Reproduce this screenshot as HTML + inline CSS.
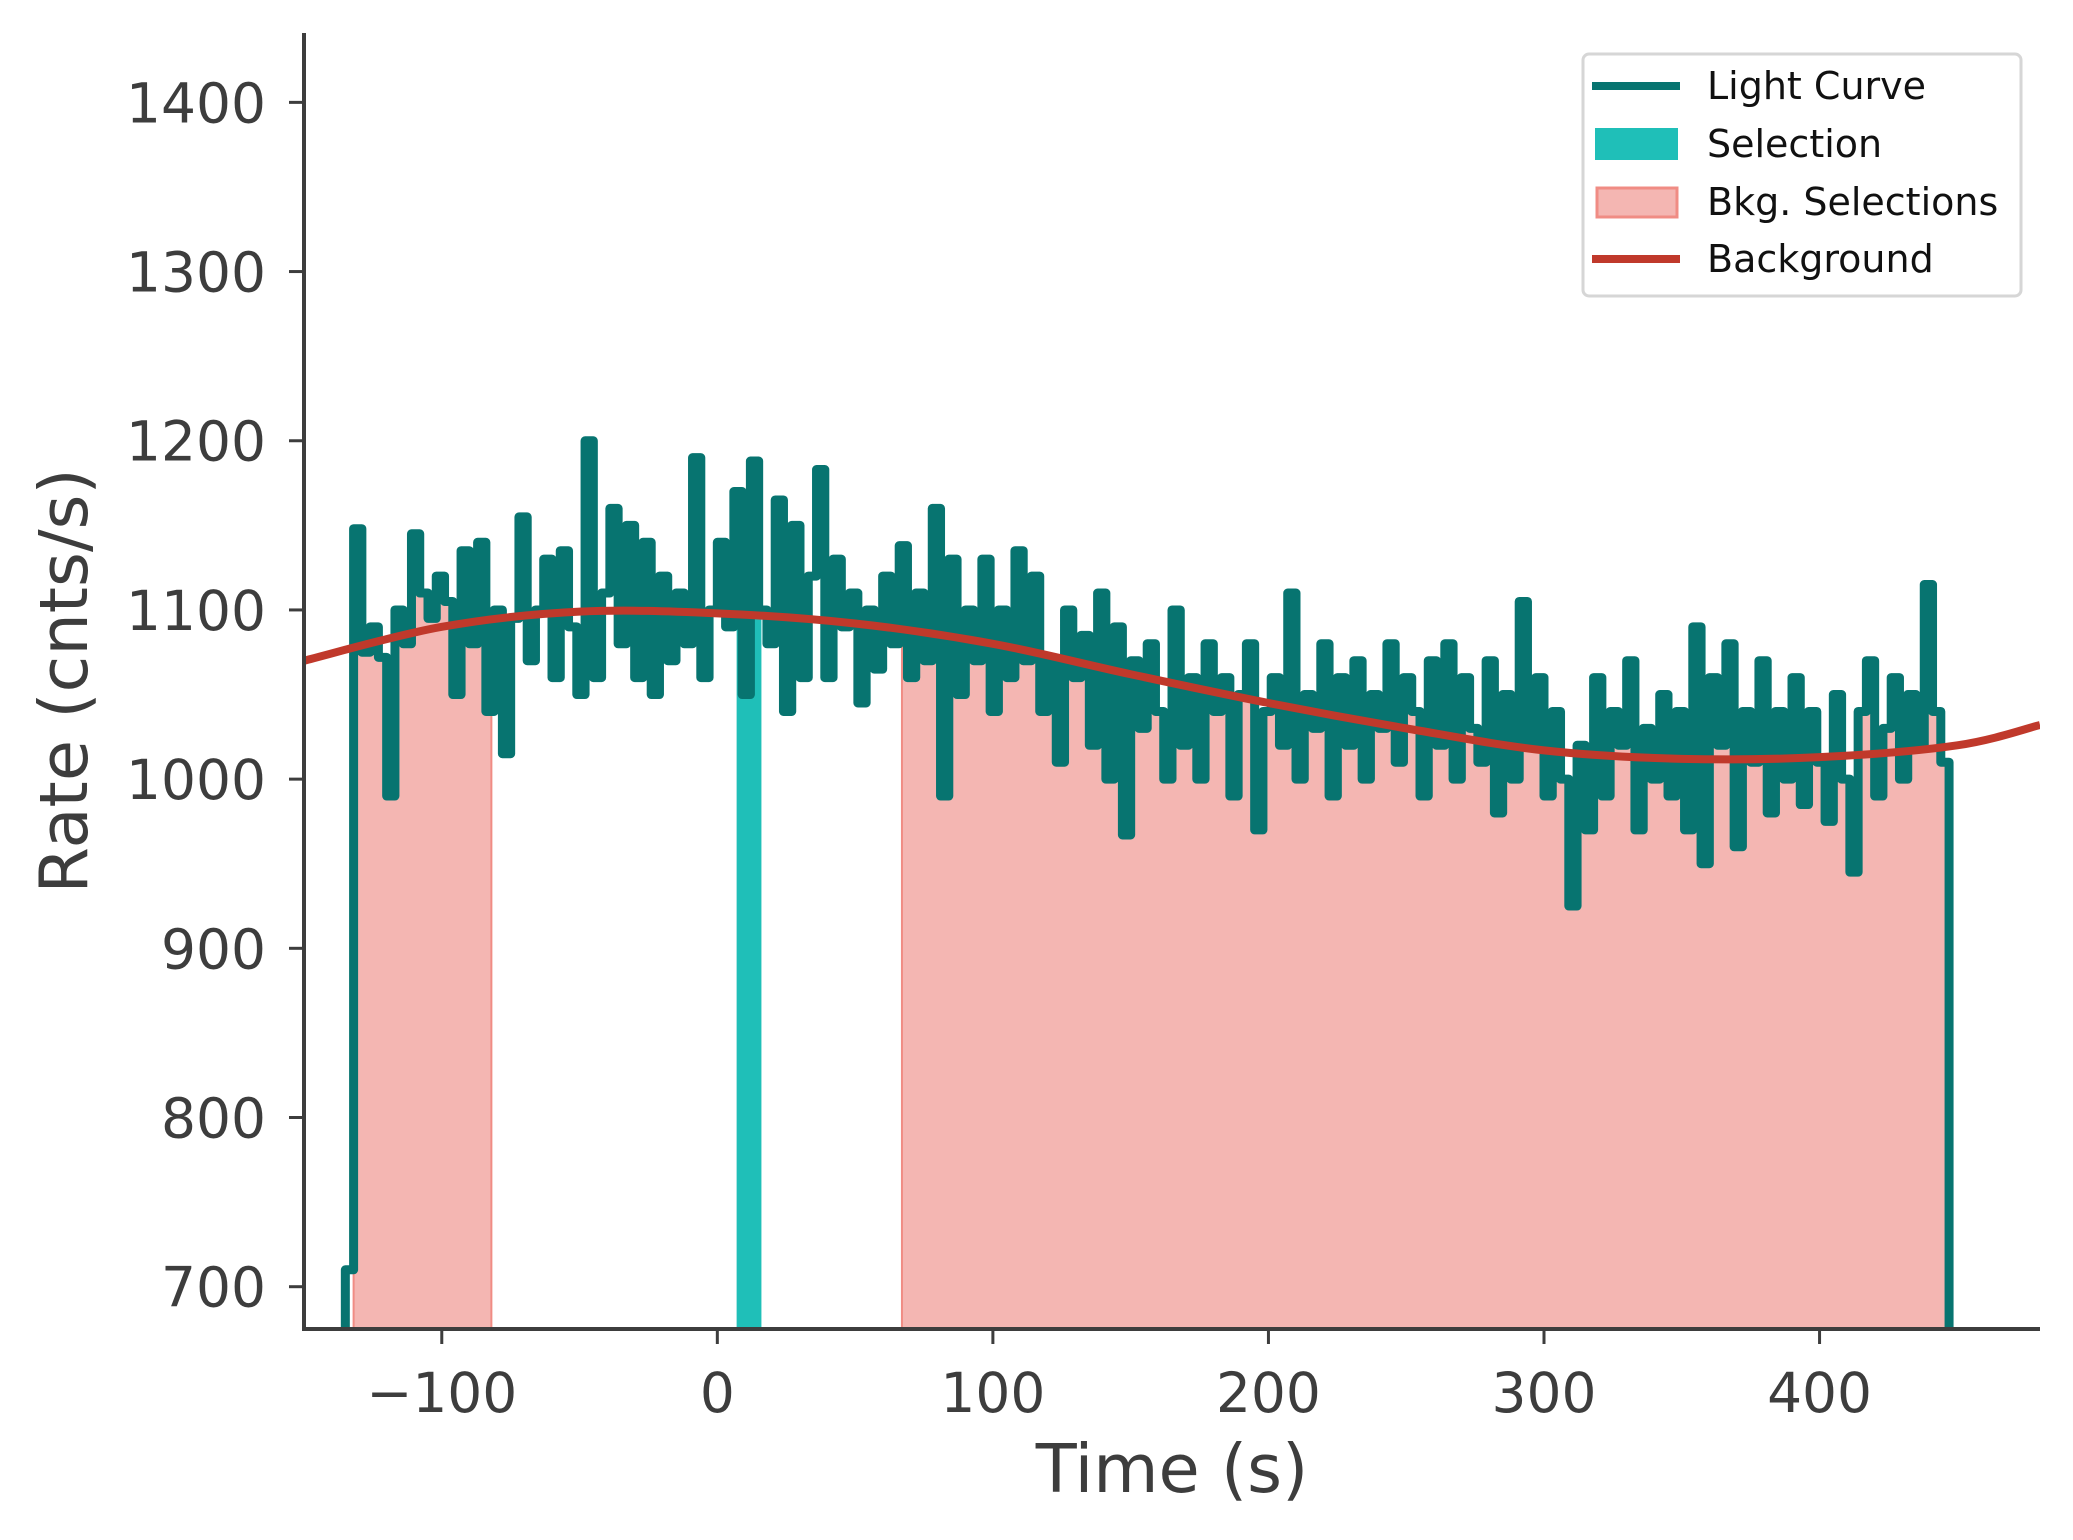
<!DOCTYPE html>
<html><head><meta charset="utf-8"><style>
html,body{margin:0;padding:0;background:#fff;}
svg{display:block;font-family:"DejaVu Sans","Liberation Sans",sans-serif;}
</style></head><body>
<svg id="chart" width="2073" height="1540" viewBox="0 0 2073 1540">
<defs><clipPath id="plotclip"><rect x="304" y="33" width="1736" height="1296"/></clipPath></defs>
<g id="plot" clip-path="url(#plotclip)"></g>
<g id="axes"></g>
<g id="legend">
  <rect x="1583" y="54" width="438" height="242" rx="6" fill="#fff" stroke="#d6d6d6" stroke-width="3"/>
  <line x1="1592" y1="86" x2="1680" y2="86" stroke="#077470" stroke-width="8"/>
  <text x="1707" y="99" font-size="38" fill="#111">Light Curve</text>
  <rect x="1595" y="128" width="83" height="32" fill="#1fbfb8"/>
  <text x="1707" y="157" font-size="38" fill="#111">Selection</text>
  <rect x="1597" y="188" width="80" height="29" fill="#f4b6b2" stroke="#f08c84" stroke-width="3"/>
  <text x="1707" y="215" font-size="38" fill="#111">Bkg. Selections</text>
  <line x1="1592" y1="259" x2="1680" y2="259" stroke="#c0392b" stroke-width="8"/>
  <text x="1707" y="272" font-size="38" fill="#111">Background</text>
</g>
</svg>
<script>
const rateValues = [
710,1148,1075,1090,1072,990,1100,1080,1145,1110,
1095,1120,1105,1050,1135,1080,1140,1040,1100,1015,
1095,1155,1070,1100,1130,1060,1135,1090,1050,1200,
1060,1110,1160,1080,1150,1060,1140,1050,1120,1070,
1110,1080,1190,1060,1100,1140,1090,1170,1050,1188,
1100,1080,1165,1040,1150,1060,1120,1183,1060,1130,
1090,1110,1045,1100,1065,1120,1080,1138,1060,1110,
1070,1160,990,1130,1050,1100,1070,1130,1040,1100,
1060,1135,1070,1120,1040,1070,1010,1100,1060,1085,
1020,1110,1000,1090,967,1070,1030,1080,1040,1000,
1100,1020,1060,1000,1080,1040,1060,990,1050,1080,
970,1040,1060,1020,1110,1000,1050,1030,1080,990,
1060,1020,1070,1000,1050,1030,1080,1010,1060,1040,
990,1070,1020,1080,1000,1060,1030,1010,1070,980,
1050,1000,1105,1020,1060,990,1040,1000,925,1020,
970,1060,990,1040,1020,1070,970,1030,1000,1050,
990,1040,970,1090,950,1060,1020,1080,960,1040,
1010,1070,980,1040,1000,1060,985,1040,1010,975,
1050,1000,945,1040,1070,990,1030,1060,1000,1050,
1020,1115,1040,1010];
const binStart = -135;
const binWidth = 3;
const bkgTimes = [-150,-100,-50,0,50,100,150,200,250,300,350,400,450,480];
const bkgRates = [1070,1090,1099,1098,1092,1080,1062,1045,1030,1017,1012,1013,1020,1032];
const selectionRange = [7,16];
const bkgRanges = [[-132,-82],[67,447]];
const xTicks = [-100,0,100,200,300,400];
const yTicks = [700,800,900,1000,1100,1200,1300,1400];

const X0=304,X1=2040,Y0=1329,Y1=33,XMIN=-150,XMAX=480,YMIN=675,YMAX=1441;
const xs=t=>X0+(t-XMIN)/(XMAX-XMIN)*(X1-X0);
const ys=v=>Y0-(v-YMIN)/(YMAX-YMIN)*(Y0-Y1);
const NS='http://www.w3.org/2000/svg';
function mk(tag,attrs,parent){const e=document.createElementNS(NS,tag);for(const k in attrs)e.setAttribute(k,attrs[k]);parent.appendChild(e);return e;}
const plot=document.getElementById('plot'), axes=document.getElementById('axes');

function rateAt(t){let i=Math.floor((t-binStart)/binWidth);i=Math.max(0,Math.min(rateValues.length-1,i));return rateValues[i];}
function fillPath(a,b){
  let d='M'+xs(a)+','+(Y0+10);
  let t=a;
  while(t<b){
    const i=Math.floor((t-binStart)/binWidth+1e-9);
    const tn=Math.min(b,binStart+(i+1)*binWidth);
    const v=rateAt(t+1e-6);
    d+=' L'+xs(t)+','+ys(v)+' L'+xs(tn)+','+ys(v);
    t=tn;
  }
  d+=' L'+xs(b)+','+(Y0+10)+' Z';
  return d;
}
bkgRanges.forEach(r=>{
  const e=mk('path',{d:fillPath(r[0],r[1]),fill:'#f4b6b2',stroke:'#f08c84','stroke-width':2},plot);
  
  
});
{
  const e=mk('path',{d:fillPath(selectionRange[0],selectionRange[1]),fill:'#1fbfb8'},plot);
  
  
}
let d='M'+xs(binStart)+','+(Y0+20);
rateValues.forEach((v,i)=>{
  const t0=binStart+i*binWidth,t1=t0+binWidth;
  d+=' L'+xs(t0)+','+ys(v)+' L'+xs(t1)+','+ys(v);
});
d+=' L'+xs(binStart+rateValues.length*binWidth)+','+(Y0+20);
{
  const e=mk('path',{d:d,fill:'none',stroke:'#077470','stroke-width':9,'stroke-linejoin':'round'},plot);
  
  
}
let pts=bkgTimes.map((t,i)=>[xs(t),ys(bkgRates[i])]);
let bd='M'+pts[0][0]+','+pts[0][1];
for(let i=0;i<pts.length-1;i++){
  const p0=pts[Math.max(0,i-1)],p1=pts[i],p2=pts[i+1],p3=pts[Math.min(pts.length-1,i+2)];
  bd+=' C'+(p1[0]+(p2[0]-p0[0])/6)+','+(p1[1]+(p2[1]-p0[1])/6)+' '+(p2[0]-(p3[0]-p1[0])/6)+','+(p2[1]-(p3[1]-p1[1])/6)+' '+p2[0]+','+p2[1];
}
{
  const e=mk('path',{d:bd,fill:'none',stroke:'#c0392b','stroke-width':8},plot);
  
  
}
{
  const e=mk('line',{x1:X0,y1:Y1,x2:X0,y2:Y0+2,stroke:'#3d3d3d','stroke-width':4},axes);
  
  
  const f=mk('line',{x1:X0-2,y1:Y0,x2:X1,y2:Y0,stroke:'#3d3d3d','stroke-width':4},axes);
  
  
}
xTicks.forEach(t=>{
  const x=xs(t);
  const tk=mk('line',{x1:x,y1:Y0,x2:x,y2:Y0+15,stroke:'#3d3d3d','stroke-width':3},axes);
  
  
  const lb=mk('text',{x:x,y:Y0+83,'font-size':55,'text-anchor':'middle',fill:'#3d3d3d'},axes);
  lb.textContent=t<0?'\u2212'+(-t):String(t);
  
  
});
yTicks.forEach(v=>{
  const y=ys(v);
  const tk=mk('line',{x1:X0-15,y1:y,x2:X0,y2:y,stroke:'#3d3d3d','stroke-width':3},axes);
  
  
  const lb=mk('text',{x:X0-38,y:y+20,'font-size':55,'text-anchor':'end',fill:'#3d3d3d'},axes);
  lb.textContent=String(v);
  
  
});
{
  const xl=mk('text',{x:(X0+X1)/2,y:1492,'font-size':67,'text-anchor':'middle',fill:'#3d3d3d'},axes);
  xl.textContent='Time (s)';
  
  
  const yl=mk('text',{x:0,y:0,'font-size':67,'text-anchor':'middle',fill:'#3d3d3d',transform:'translate(87,681) rotate(-90)'},axes);
  yl.textContent='Rate (cnts/s)';
  
  
}
</script>
</body></html>
